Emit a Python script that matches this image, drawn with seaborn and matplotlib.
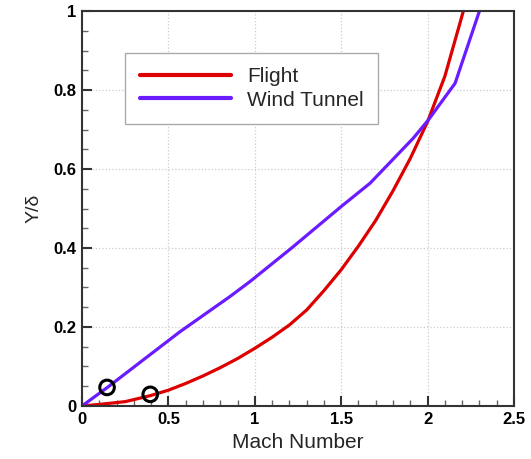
import matplotlib
matplotlib.use("Agg")
import matplotlib.pyplot as plt
import seaborn as sns
import pandas as pd
from matplotlib.ticker import MultipleLocator

# Data
flight_mach = [0.0, 0.1, 0.25, 0.394, 0.5, 0.6, 0.7, 0.8, 0.9, 1.0, 1.1, 1.2, 1.3, 1.4, 1.5,
               1.6, 1.7, 1.8, 1.9, 2.0, 2.1, 2.207]
flight_y    = [0.0, 0.004, 0.011, 0.026, 0.040, 0.057, 0.076, 0.097, 0.120, 0.146, 0.174, 0.205,
               0.243, 0.292, 0.345, 0.405, 0.470, 0.545, 0.627, 0.720, 0.835, 1.0]

tunnel_mach = [0.0, 0.147, 0.567, 0.856, 0.972, 1.213, 1.5, 1.667, 1.917, 2.004, 2.159, 2.30]
tunnel_y    = [0.0, 0.047, 0.188, 0.277, 0.315, 0.400, 0.505, 0.564, 0.678, 0.724, 0.817, 1.0]

marker_mach = [0.145, 0.395]
marker_y    = [0.047, 0.0295]

series_names = ["Flight", "Wind Tunnel"]
colors = ["#dd0000", "#6a1bff"]

x_ticks = [0, 0.5, 1, 1.5, 2, 2.5]
x_tick_labels = ["0", "0.5", "1", "1.5", "2", "2.5"]
y_ticks = [0, 0.2, 0.4, 0.6, 0.8, 1]
y_tick_labels = ["0", "0.2", "0.4", "0.6", "0.8", "1"]

sns.set_style("white")
plt.rcParams['font.family'] = ['Liberation Sans', 'DejaVu Sans']

df = pd.concat([
    pd.DataFrame({"Mach": flight_mach, "Y": flight_y, "series": series_names[0]}),
    pd.DataFrame({"Mach": tunnel_mach, "Y": tunnel_y, "series": series_names[1]}),
])
mk = pd.DataFrame({"Mach": marker_mach, "Y": marker_y})

fig = plt.figure(figsize=(5.31, 4.59), dpi=100)
ax = fig.add_axes([0.1544, 0.1155, 0.8136, 0.8605])

sns.lineplot(data=df, x="Mach", y="Y", hue="series", palette=dict(zip(series_names, colors)),
             sort=False, estimator=None, linewidth=2.3, ax=ax, legend=True)
ax.scatter(mk["Mach"], mk["Y"], s=110, facecolors="none", edgecolors="black", linewidths=2.2,
           zorder=5, clip_on=False)

ax.set_xlim(0, 2.5)
ax.set_ylim(0, 1)
ax.set_xticks(x_ticks)
ax.set_xticklabels(x_tick_labels)
ax.set_yticks(y_ticks)
ax.set_yticklabels(y_tick_labels)
ax.xaxis.set_minor_locator(MultipleLocator(0.1))
ax.yaxis.set_minor_locator(MultipleLocator(0.05))
ax.tick_params(which="both", bottom=True, left=True, top=False, right=False)
ax.tick_params(which="major", direction="in", length=7.5, width=1.5, labelsize=12, pad=4,
               color="#333333", labelcolor="black")
ax.tick_params(which="minor", direction="in", length=4.5, width=1.0, color="#666666")
for lab in ax.get_xticklabels() + ax.get_yticklabels():
    lab.set_fontweight("bold")

ax.grid(True, which="major", color="#cccccc", linestyle=":", linewidth=0.9)
for s in ax.spines.values():
    s.set_color("#333333")
    s.set_linewidth(1.5)

ax.set_xlabel("Mach Number", fontsize=15, labelpad=5)
ax.set_ylabel("Y/δ", fontsize=14, labelpad=8)

leg = ax.legend(loc="upper left", bbox_to_anchor=(0.0995, 0.894), fontsize=15,
                handlelength=4.4, handletextpad=0.77, borderpad=0.7, labelspacing=0.2,
                fancybox=False, framealpha=1, edgecolor="#aaaaaa", borderaxespad=0)
leg.get_frame().set_linewidth(1.0)
for line in leg.get_lines():
    line.set_linewidth(3)

fig.savefig("out.png", dpi=100)
